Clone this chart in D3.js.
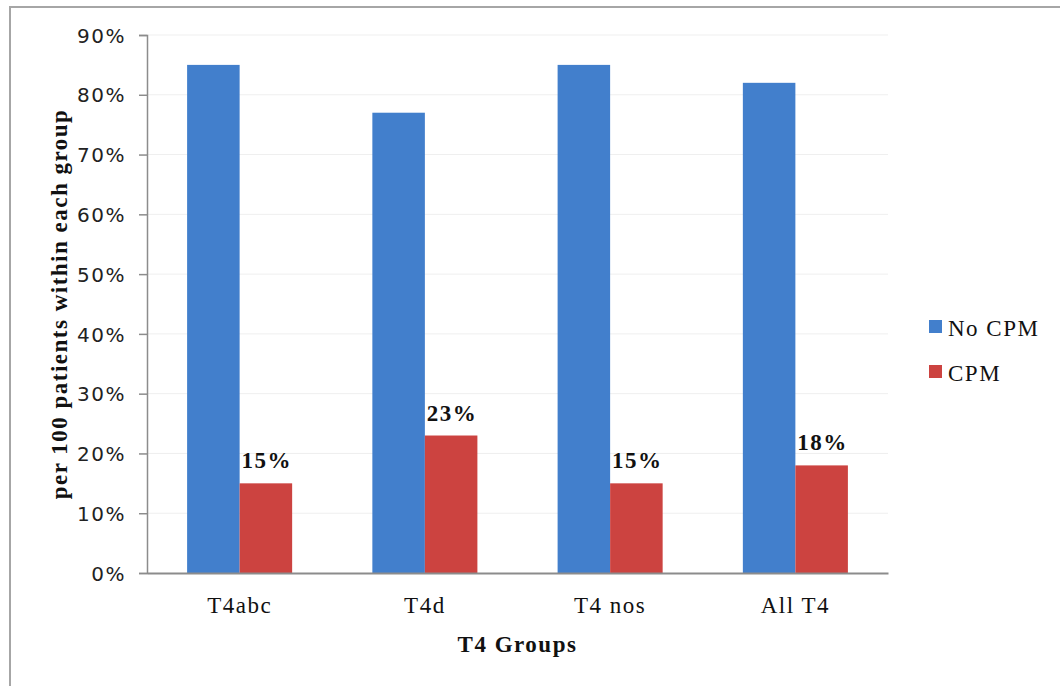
<!DOCTYPE html>
<html>
<head>
<meta charset="utf-8">
<script src="https://cdn.jsdelivr.net/npm/d3@7/dist/d3.min.js"></script>
<style>
  html, body { margin: 0; padding: 0; background: #fff; }
  svg { display: block; }
  .serif { font-family: "Liberation Serif", "Times New Roman", serif; letter-spacing: 1.5px; fill: #111; }
  .sans { font-family: "DejaVu Sans", sans-serif; letter-spacing: 1.5px; fill: #222; }
</style>
</head>
<body>
<svg id="chart" width="1060" height="686"></svg>
<script>
// ---- data ----
const categories = ["T4abc", "T4d", "T4 nos", "All T4"];
const seriesNames = ["No CPM", "CPM"];
const noCPM = [85, 77, 85, 82];
const cpm = [15, 23, 15, 18];
const cpmLabels = ["15%", "23%", "15%", "18%"];
const yTicks = [0, 10, 20, 30, 40, 50, 60, 70, 80, 90];
const xTitle = "T4 Groups";
const yTitle = "per 100 patients within each group";

const colors = { "No CPM": "#427fcc", "CPM": "#cc4340" };

const svg = d3.select("#chart");

// outer frame (only left/top edges visible)
svg.append("rect")
  .attr("x", 10).attr("y", 7)
  .attr("width", 1080).attr("height", 700)
  .attr("fill", "#fff")
  .attr("stroke", "#a6a6a6").attr("stroke-width", 2);

const plot = { left: 147, right: 888, top: 35, bottom: 573 };

const x0 = d3.scaleBand()
  .domain(categories)
  .range([plot.left, plot.right])
  .paddingInner(0.433)
  .paddingOuter(0.2165);

const x1 = d3.scaleBand()
  .domain(seriesNames)
  .range([0, x0.bandwidth()]);

const y = d3.scaleLinear().domain([0, 90]).range([plot.bottom, plot.top]);

// gridlines
svg.append("g")
  .selectAll("line")
  .data(yTicks.filter(d => d > 0))
  .join("line")
  .attr("x1", plot.left).attr("x2", plot.right)
  .attr("y1", d => y(d)).attr("y2", d => y(d))
  .attr("stroke", "#efefef").attr("stroke-width", 1);

// bars
const rows = categories.map((c, i) => ({ cat: c, values: [
  { key: "No CPM", v: noCPM[i] },
  { key: "CPM", v: cpm[i], label: cpmLabels[i] }
]}));

const groups = svg.append("g").selectAll("g")
  .data(rows).join("g")
  .attr("transform", d => `translate(${x0(d.cat)},0)`);

groups.selectAll("rect")
  .data(d => d.values).join("rect")
  .attr("x", d => x1(d.key))
  .attr("width", x1.bandwidth())
  .attr("y", d => y(d.v))
  .attr("height", d => y(0) - y(d.v))
  .attr("fill", d => colors[d.key]);

groups.selectAll("text.lbl")
  .data(d => d.values.filter(v => v.label)).join("text")
  .attr("class", "lbl serif")
  .attr("x", d => x1(d.key) + x1.bandwidth() / 2 + 1)
  .attr("y", d => y(d.v) - 15)
  .attr("text-anchor", "middle")
  .attr("font-size", 23)
  .attr("font-weight", "bold")
  .text(d => d.label);

// y axis
const yAxis = d3.axisLeft(y)
  .tickValues(yTicks)
  .tickSize(8)
  .tickPadding(13)
  .tickFormat(d => d + "%");

const yg = svg.append("g")
  .attr("transform", `translate(${plot.left},0)`)
  .call(yAxis);
yg.select(".domain").attr("stroke", "#8c8c8c").attr("stroke-width", 1.5);
yg.selectAll(".tick line").attr("stroke", "#8c8c8c").attr("stroke-width", 1.5);
yg.selectAll(".tick text")
  .attr("class", "sans")
  .attr("font-size", 20)
  .attr("dy", "0.36em");

// x axis
const xAxis = d3.axisBottom(x0).tickSize(0).tickPadding(24);
const xg = svg.append("g")
  .attr("transform", `translate(0,${plot.bottom})`)
  .call(xAxis);
xg.select(".domain").attr("stroke", "#8c8c8c").attr("stroke-width", 2);
xg.selectAll(".tick text")
  .attr("class", "serif")
  .attr("font-size", 23)
  .attr("dy", "0.71em");

// axis titles
svg.append("text")
  .attr("class", "serif")
  .attr("x", (plot.left + plot.right) / 2)
  .attr("y", 652)
  .attr("text-anchor", "middle")
  .attr("font-size", 23)
  .attr("font-weight", "bold")
  .text(xTitle);

svg.append("text")
  .attr("class", "serif")
  .attr("transform", "translate(67,304) rotate(-90)")
  .attr("text-anchor", "middle")
  .attr("font-size", 23)
  .attr("font-weight", "bold")
  .text(yTitle);

// legend
const legend = svg.append("g").selectAll("g")
  .data(seriesNames).join("g")
  .attr("transform", (d, i) => `translate(929,${320 + i * 45})`);
legend.append("rect")
  .attr("width", 13).attr("height", 13)
  .attr("fill", d => colors[d]);
legend.append("text")
  .attr("class", "serif")
  .attr("x", 19).attr("y", 16)
  .attr("font-size", 23)
  .text(d => d);
</script>
</body>
</html>
